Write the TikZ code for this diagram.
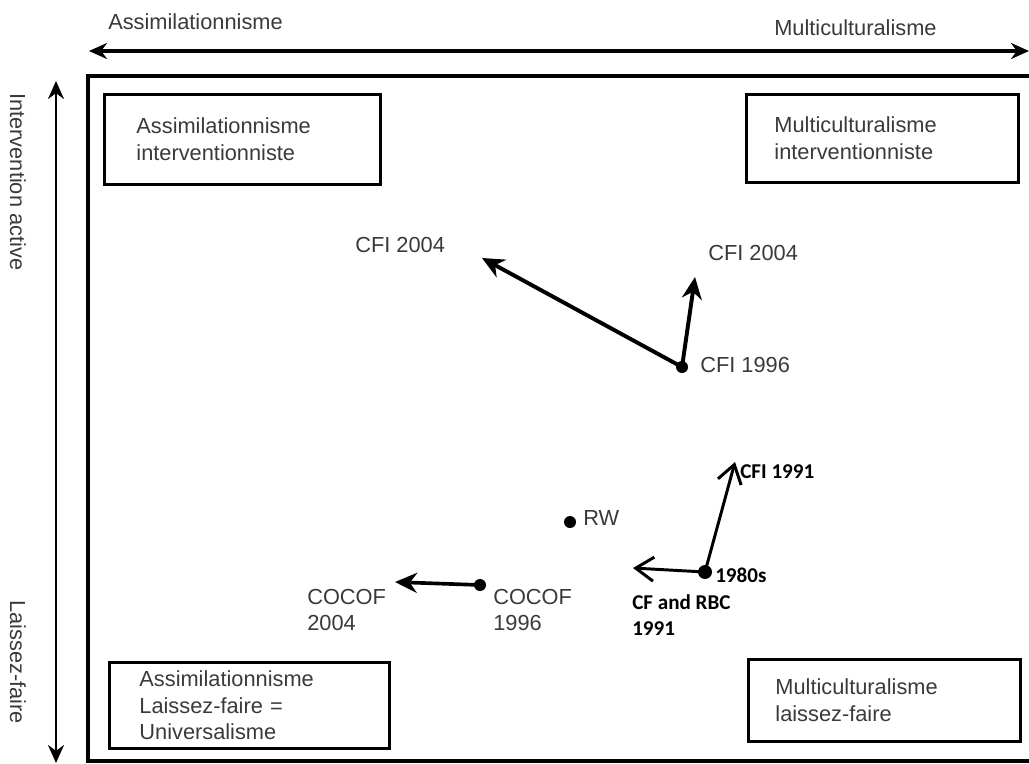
\documentclass[tikz,border=0pt]{standalone}
\usepackage{fontspec}
\setmainfont{Liberation Sans}
\newfontfamily\calibri{Carlito}
\usetikzlibrary{arrows.meta,positioning}
\definecolor{txtgray}{HTML}{3A3A3A}

\begin{document}
\begin{tikzpicture}[x=0.025cm,y=-0.025cm,>=Stealth,font=\fontsize{15.5}{19}\selectfont]
\tikzset{
qbox/.style={draw,line width=2pt,anchor=north west,align=left,inner ysep=0pt,text=txtgray},
lab/.style={inner sep=0pt,anchor=west,text=txtgray},
blab/.style={inner sep=0pt,anchor=west,align=left,font=\calibri\bfseries\fontsize{15}{18.5}\selectfont},
dot/.style={circle,fill,inner sep=0pt,minimum size=0.3cm},
axis/.style={<->,line width=2.4pt,>={Stealth[length=0.45cm,width=0.4cm]}},
a/.style={->,line width=2.8pt,>={Stealth[length=0.55cm,width=0.5cm]}},
b/.style={->,line width=2.1pt,>={Straight Barb[length=0.45cm,width=0.6cm]}}}

\useasboundingbox (0,0) rectangle (1029,763);

% axes
\coordinate (xl) at (89,51);
\coordinate (xr) at (1029,51);
\coordinate (yt) at (56,81);
\coordinate (yb) at (56,763);
\draw[axis] (xl) -- (xr);
\draw[axis,line width=1.8pt] (yt) -- (yb);
\node[lab] (assim) at (108,22) {Assimilationnisme};
\node[lab] (multi) at (774,28) {Multiculturalisme};
\node[lab,rotate=-90] (active) at (18,93) {Intervention active};
\node[lab,rotate=-90,anchor=center] (laissez) at (18,662) {Laissez-faire};

% frame and the four corner boxes
\draw[line width=2.8pt] (88,76) rectangle (1040,761);
\node[qbox,inner xsep=0.8cm,text width=5.3cm,minimum height=2.25cm] (tl) at (103,93)
  {Assimilationnisme\\interventionniste};
\node[qbox,inner xsep=0.7cm,text width=5.4cm,minimum height=2.2cm] (tr) at (745,93)
  {Multiculturalisme\\interventionniste};
\node[qbox,inner xsep=0.75cm,text width=5.5cm,minimum height=2.15cm] (bl) at (108,661)
  {Assimilationnisme\\Laissez-faire =\\Universalisme};
\node[qbox,inner xsep=0.675cm,text width=5.45cm,minimum height=2.05cm] (br) at (747,658)
  {Multiculturalisme\\laissez-faire};

% CFI
\node[dot] (cfi96) at (682,367) {};
\coordinate (cfi04l) at (482,258);
\coordinate (cfi04r) at (695,277);
\draw[a] (cfi96.center) -- (cfi04l);
\draw[a] (cfi96.center) -- (cfi04r);
\node[lab] (t04l) at (355,245) {CFI 2004};
\node[lab] (t04r) at (708,253) {CFI 2004};
\node[lab] (t96) at (700,365) {CFI 1996};

% RW and COCOF
\node[dot] (rw) at (570,522) {};
\node[lab] (trw) at (583,518) {RW};
\node[dot] (cocof96) at (480,585) {};
\coordinate (cocof04) at (395,582);
\draw[a,line width=2.6pt] (cocof96.center) -- (cocof04);
\node[lab,align=left] (tc96) at (493,610) {COCOF\\1996};
\node[lab,align=left] (tc04) at (307,610) {COCOF\\2004};

% 1980s
\node[dot,minimum size=0.35cm] (d80) at (705,572) {};
\coordinate (cfi91) at (735,462);
\coordinate (cfrbc) at (633,568);
\draw[b] (d80.center) -- (cfi91);
\draw[b] (d80.center) -- (cfrbc);
\node[blab] (t91) at (740,472) {CFI 1991};
\node[blab] (t80) at (715,575) {1980s};
\node[blab] (trbc) at (632,615) {CF and RBC\\1991};
\end{tikzpicture}
\end{document}
